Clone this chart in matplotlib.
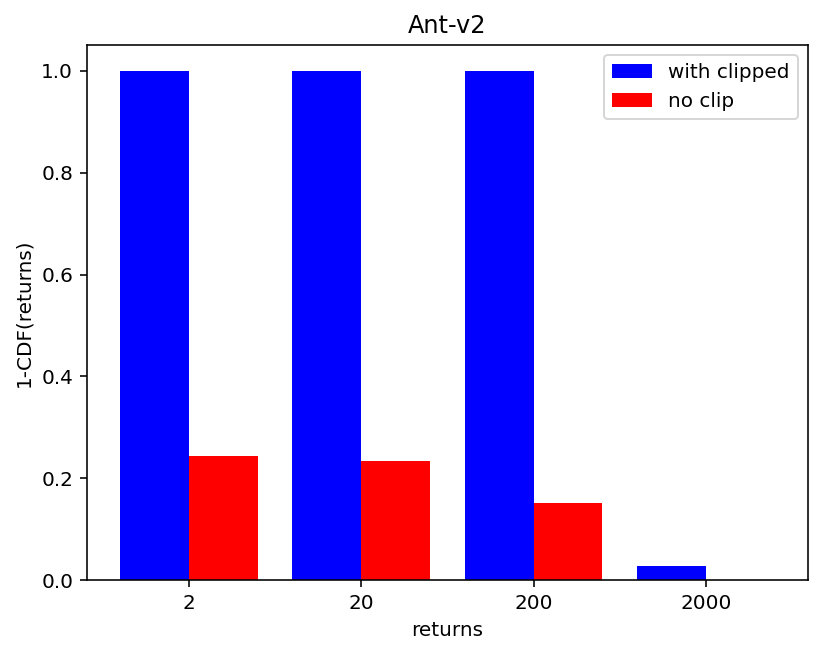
import matplotlib
matplotlib.use('Agg')
import matplotlib.pyplot as plt
import numpy as np

labels = ['2', '20', '200', '2000']
clipped = [1.0, 1.0, 1.0, 0.028]
no_clip = [0.243, 0.233, 0.152, 0.0]

x = np.arange(len(labels))
width = 0.4

fig = plt.figure(figsize=(830 / 144, 657 / 144), dpi=144)
ax = fig.add_axes([0.105, 0.117, 0.868, 0.814])

ax.bar(x - width / 2, clipped, width, color='blue', label='with clipped')
ax.bar(x + width / 2, no_clip, width, color='red', label='no clip')

ax.set_xticks(x)
ax.set_xticklabels(labels)
ax.set_xlabel('returns')
ax.set_ylabel('1-CDF(returns)')
ax.set_title('Ant-v2')
ax.legend(loc='upper right')

fig.savefig('out.png', dpi=144)
